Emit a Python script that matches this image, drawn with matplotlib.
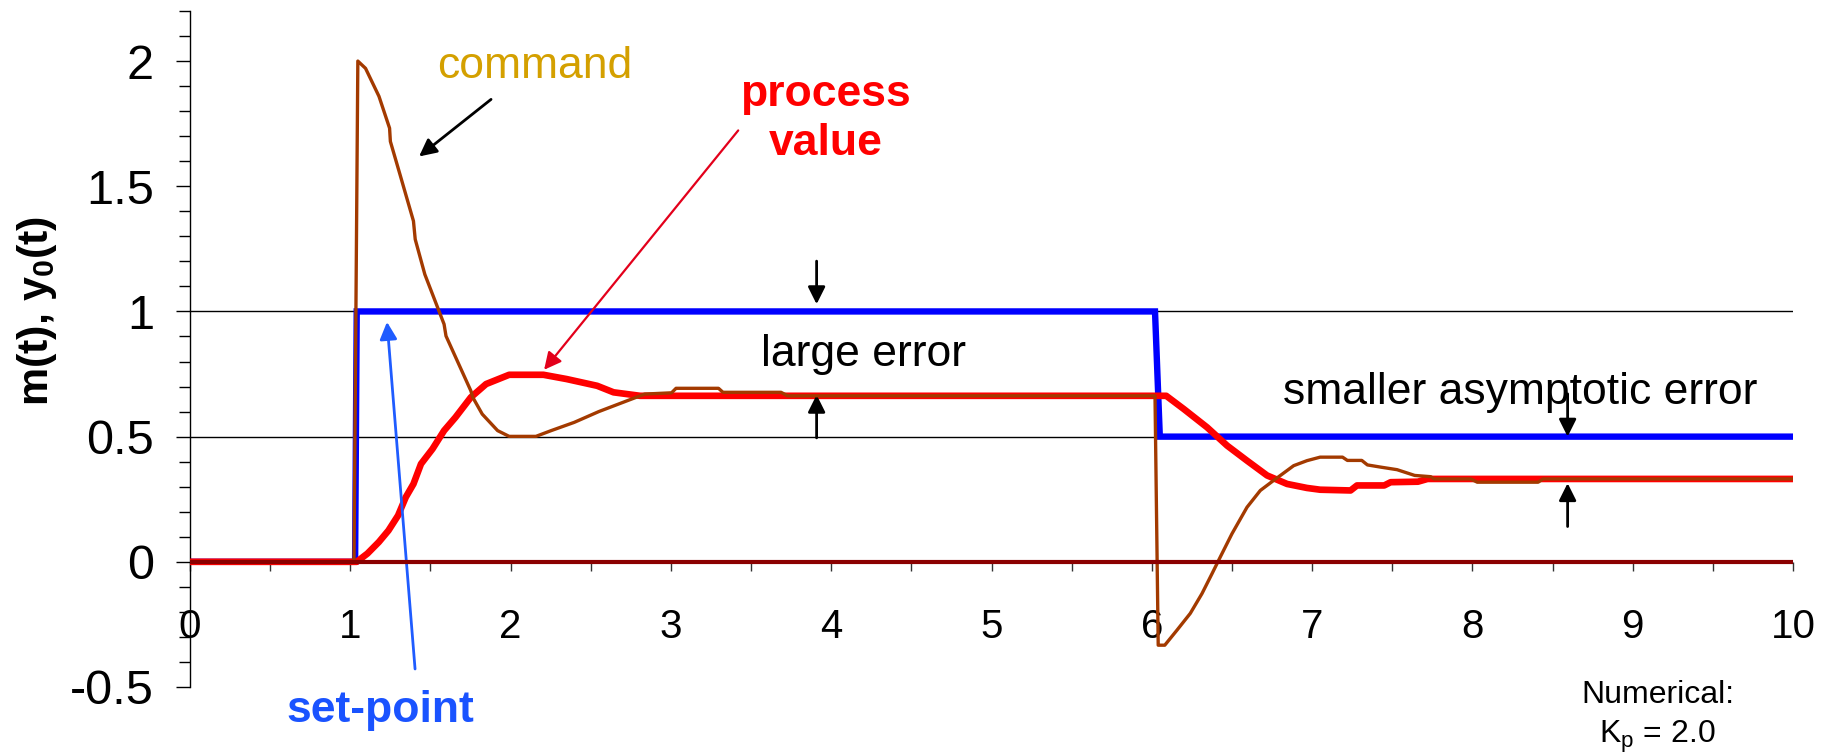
import matplotlib
matplotlib.use("Agg")
import matplotlib.pyplot as plt

plt.rcParams['font.family'] = ['Liberation Sans', 'DejaVu Sans']
plt.rcParams['mathtext.fontset'] = 'custom'
plt.rcParams['mathtext.rm'] = 'Liberation Sans'
plt.rcParams['mathtext.bf'] = 'Liberation Sans:bold'

# set-point
sp_t = [0, 1.03, 1.04, 6.02, 6.05, 10]
sp_v = [0, 0, 1, 1, 0.5, 0.5]

# process value y0(t)
pv_t = [0, 1.04, 1.107, 1.178, 1.238, 1.298, 1.346, 1.394, 1.441, 1.513, 1.585,
        1.656, 1.752, 1.847, 1.991, 2.205, 2.349, 2.54, 2.642, 2.808, 4.0, 6.09,
        6.2, 6.345, 6.47, 6.594, 6.719, 6.844, 6.968, 7.05,
        7.24, 7.28, 7.45, 7.49, 7.66, 7.72, 10]
pv_v = [0, 0, 0.033, 0.079, 0.125, 0.185, 0.258, 0.311, 0.391, 0.451, 0.524,
        0.577, 0.657, 0.71, 0.747, 0.747, 0.73, 0.703, 0.677, 0.663, 0.663, 0.663,
        0.61, 0.537, 0.464, 0.404, 0.345, 0.311, 0.295, 0.288,
        0.285, 0.305, 0.305, 0.318, 0.32, 0.331, 0.331]

# command m(t)
cmd_t = [0, 1.023, 1.047, 1.095, 1.179, 1.245, 1.25, 1.31, 1.394, 1.405, 1.465,
         1.585, 1.597, 1.752, 1.764, 1.823, 1.919, 1.991, 2.158, 2.253, 2.397,
         2.55, 2.726, 2.837, 3.004, 3.032, 3.297, 3.325, 3.687, 3.728, 6.02,
         6.04, 6.081, 6.157, 6.24, 6.313, 6.376, 6.427, 6.50, 6.594, 6.677, 6.76,
         6.885, 6.968, 7.05, 7.19, 7.22, 7.31, 7.345, 7.43, 7.53, 7.64, 7.74,
         7.76, 7.99, 8.03, 8.41, 8.44, 10]
cmd_v = [0, 0, 2.0, 1.971, 1.859, 1.732, 1.679, 1.547, 1.361, 1.288, 1.148,
         0.949, 0.902, 0.683, 0.657, 0.59, 0.524, 0.501, 0.501, 0.524, 0.557,
         0.60, 0.643, 0.67, 0.675, 0.693, 0.693, 0.677, 0.677, 0.663, 0.663,
         -0.333, -0.333, -0.273, -0.206, -0.127, -0.047, 0.019, 0.112, 0.218, 0.285, 0.325,
         0.384, 0.404, 0.418, 0.418, 0.405, 0.405, 0.387, 0.378, 0.368, 0.345, 0.340,
         0.331, 0.331, 0.318, 0.318, 0.331, 0.331]

# disturbance (zero)
d_t = [0, 10]
d_v = [0, 0]

y_major = [-0.5, 0, 0.5, 1, 1.5, 2]
y_labels = ['-0.5', '0', '0.5', '1', '1.5', '2']
x_major = list(range(11))

fig = plt.figure(figsize=(18.25, 7.55), dpi=100)
ax = fig.add_axes([190/1825, 68/755, 1603/1825, 676/755])

for g in [0.5, 1.0]:
    ax.axhline(g, color='black', lw=1.0, zorder=1)

ax.plot(sp_t, sp_v, color='#0000FF', lw=4.6, zorder=2, solid_joinstyle='miter')
ax.plot(pv_t, pv_v, color='#FF0000', lw=4.8, zorder=3)
ax.plot(cmd_t, cmd_v, color='#A33A00', lw=2.4, zorder=4)
ax.plot(d_t, d_v, color='#8B0000', lw=3.0, zorder=5)

ax.set_xlim(0, 10)
ax.set_ylim(-0.5, 2.2)
ax.spines['top'].set_visible(False)
ax.spines['right'].set_visible(False)
ax.spines['bottom'].set_position(('data', 0))
ax.spines['bottom'].set_visible(False)
ax.spines['left'].set_linewidth(1.0)

ax.set_yticks(y_major)
ax.set_yticklabels(y_labels)
ax.set_yticks([round(-0.5 + 0.1 * i, 1) for i in range(28) if i % 5 != 0], minor=True)
ax.set_xticks(x_major)
ax.set_xticks([i + 0.5 for i in range(10)], minor=True)
ax.tick_params(axis='y', which='major', direction='out', length=10, width=1.0,
               labelsize=35, pad=16)
ax.tick_params(axis='y', which='minor', direction='out', length=8, width=1.0)
ax.tick_params(axis='x', which='both', direction='out', length=6.5, width=1.0,
               color='#333333', labelsize=29, pad=27)

fig.text(37/1825, 1 - 311/755, r'm(t), y$_\mathbf{0}$(t)', rotation=90,
         ha='center', va='center', fontsize=31, fontweight='bold')

# annotations
ax.text(2.153, 1.931, 'command', color='#D4A000', fontsize=32, ha='center', va='baseline')
ax.annotate('', xy=(1.429, 1.619), xytext=(1.878, 1.847),
            arrowprops=dict(arrowstyle='-|>', color='black', lw=2.0,
                            mutation_scale=26, shrinkA=0, shrinkB=0))

ax.text(3.963, 1.819, 'process', color='#FF0000', fontsize=32, fontweight='bold',
        ha='center', va='baseline')
ax.text(3.963, 1.626, 'value', color='#FF0000', fontsize=32, fontweight='bold',
        ha='center', va='baseline')
ax.annotate('', xy=(2.209, 0.767), xytext=(3.420, 1.723),
            arrowprops=dict(arrowstyle='-|>', color='#E3001B', lw=1.6,
                            mutation_scale=26, shrinkA=0, shrinkB=0))

ax.text(1.186, -0.638, 'set-point', color='#1A53FF', fontsize=32, fontweight='bold',
        ha='center', va='baseline')
ax.annotate('', xy=(1.229, 0.958), xytext=(1.404, -0.428),
            arrowprops=dict(arrowstyle='-|>', color='#1F5CFF', lw=2.0,
                            mutation_scale=26, shrinkA=0, shrinkB=0),
            annotation_clip=False)

ax.text(4.2, 0.783, 'large error', color='black', fontsize=32, ha='center', va='baseline')
ax.annotate('', xy=(3.909, 1.029), xytext=(3.909, 1.201),
            arrowprops=dict(arrowstyle='-|>', color='black', lw=2.0,
                            mutation_scale=26, shrinkA=0, shrinkB=0))
ax.annotate('', xy=(3.909, 0.667), xytext=(3.909, 0.495),
            arrowprops=dict(arrowstyle='-|>', color='black', lw=2.0,
                            mutation_scale=26, shrinkA=0, shrinkB=0))

ax.text(8.3, 0.631, 'smaller asymptotic error', color='black', fontsize=32,
        ha='center', va='baseline')
ax.annotate('', xy=(8.594, 0.5), xytext=(8.594, 0.671),
            arrowprops=dict(arrowstyle='-|>', color='black', lw=2.0,
                            mutation_scale=26, shrinkA=0, shrinkB=0))
ax.annotate('', xy=(8.594, 0.314), xytext=(8.594, 0.141),
            arrowprops=dict(arrowstyle='-|>', color='black', lw=2.0,
                            mutation_scale=26, shrinkA=0, shrinkB=0))

ax.text(9.154, -0.5625, 'Numerical:', color='black', fontsize=23,
        ha='center', va='baseline')
ax.text(9.154, -0.723, r'K$_\mathrm{p}$ = 2.0', color='black', fontsize=23,
        ha='center', va='baseline')

fig.savefig('out.png', dpi=100)
